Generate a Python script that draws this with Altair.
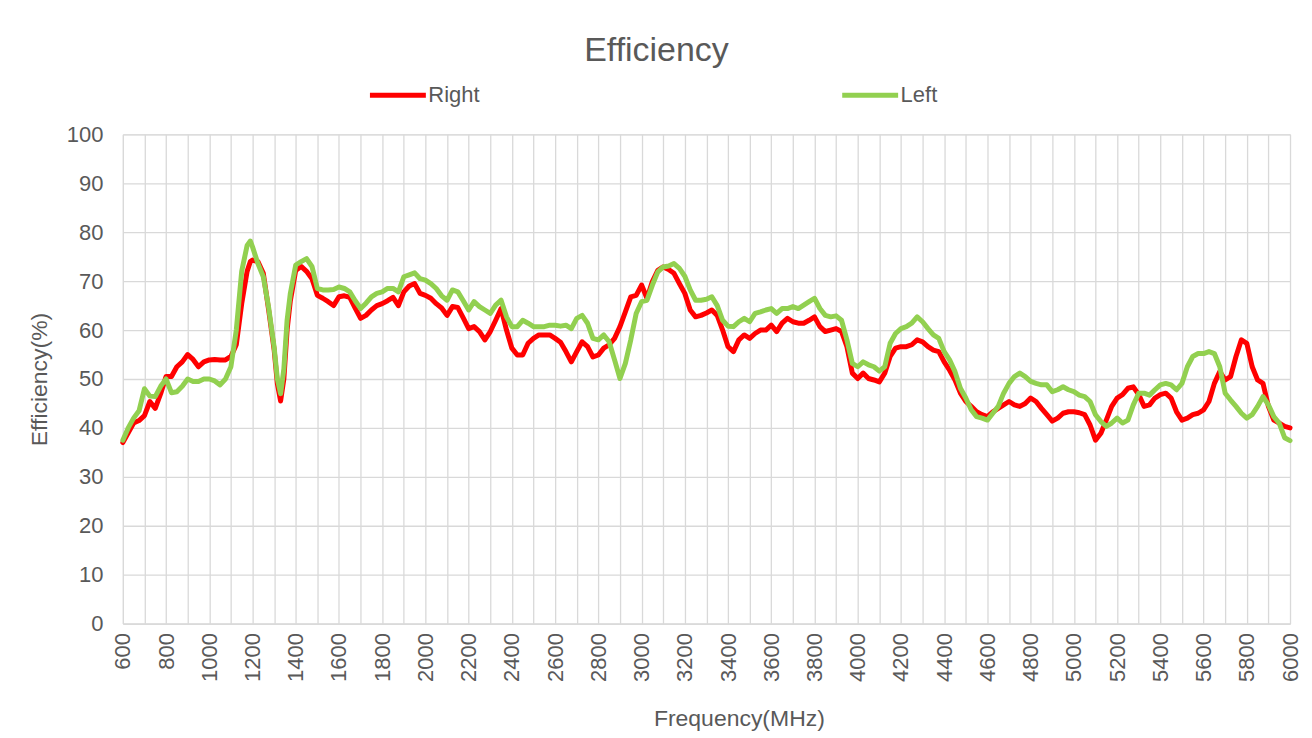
import altair as alt
import pandas as pd

FONT = "Liberation Sans"
GREY = "#595959"
GRID = "#D9D9D9"

freq = [
    600, 625, 650, 675, 700, 725, 750, 775, 800, 825, 850, 875,
    900, 925, 950, 975, 1000, 1025, 1050, 1075, 1100, 1125, 1150, 1175,
    1190, 1200, 1225, 1250, 1275, 1300, 1315, 1330, 1345, 1360, 1375, 1400,
    1425, 1450, 1475, 1500, 1525, 1550, 1575, 1600, 1625, 1650, 1675, 1700,
    1725, 1750, 1775, 1800, 1825, 1850, 1875, 1900, 1925, 1950, 1975, 2000,
    2025, 2050, 2075, 2100, 2125, 2150, 2175, 2200, 2225, 2250, 2275, 2300,
    2325, 2350, 2375, 2400, 2425, 2450, 2475, 2500,
    2525, 2550, 2575, 2600, 2625, 2650, 2675, 2700, 2725, 2750, 2775, 2800,
    2825, 2850, 2875, 2900, 2925, 2950, 2975, 3000,
    3025, 3050, 3075, 3100, 3125, 3150, 3175, 3200, 3225, 3250, 3275, 3300,
    3325, 3350, 3375, 3400, 3425, 3450, 3475, 3500,
    3525, 3550, 3575, 3600, 3625, 3650, 3675, 3700, 3725, 3750, 3775, 3800,
    3825, 3850, 3875, 3900, 3925, 3950, 3975, 4000,
    4025, 4050, 4075, 4100, 4125, 4150, 4175, 4200, 4225, 4250, 4275, 4300,
    4325, 4350, 4375, 4400, 4425, 4450, 4475, 4500,
    4525, 4550, 4575, 4600, 4625, 4650, 4675, 4700, 4725, 4750, 4775, 4800,
    4825, 4850, 4875, 4900, 4925, 4950, 4975, 5000,
    5025, 5050, 5075, 5100, 5125, 5150, 5175, 5200, 5225, 5250, 5275, 5300,
    5325, 5350, 5375, 5400, 5425, 5450, 5475, 5500,
    5525, 5550, 5575, 5600, 5625, 5650, 5675, 5700, 5725, 5750, 5775, 5800,
    5825, 5850, 5875, 5900, 5925, 5950, 5975, 6000,
]

right = [
    37, 39, 41, 41.5, 42.5, 45.4, 44, 47, 50.5, 50.5, 52.5, 53.5,
    55, 54, 52.5, 53.5, 53.9, 54, 53.9, 53.9, 54.6, 57, 65.4, 72,
    74, 74.3, 74, 71.6, 64, 56, 49, 45.5, 50, 60, 66, 72.2,
    73, 72, 70.5, 67.1, 66.5, 65.8, 65, 66.8, 67, 66.7, 64.5, 62.4,
    63, 64.1, 65, 65.4, 66, 66.7, 65, 67.8, 69, 69.5, 67.5, 67.1,
    66.5, 65.4, 64.5, 63, 64.8, 64.6, 62.5, 60.3, 60.7, 59.7, 58, 59.7,
    62, 64.4, 60, 56.3, 54.9, 54.9, 57.3, 58.3,
    59, 59, 59, 58.3, 57.5, 55.6, 53.5, 55.6, 57.6, 56.6, 54.5, 54.9,
    56.3, 57, 58.3, 60.7, 63.7, 66.8, 67.1, 69.2,
    66.5, 69.9, 72.2, 72.9, 72.4, 71.6, 69.5, 67.5, 64.1, 62.7, 63, 63.5,
    64.1, 63, 60, 56.6, 55.6, 58, 59, 58.3,
    59.3, 60, 60, 61, 59.7, 61.4, 62.4, 61.7, 61.4, 61.4, 62, 62.7,
    60.7, 59.7, 60, 60.3, 59.7, 56.6, 51.2, 50.1,
    51.2, 50.1, 49.8, 49.4, 51.2, 54.6, 56.3, 56.6, 56.6, 57, 58, 57.6,
    56.6, 55.9, 55.6, 53.5, 51.8, 49.8, 47.1, 45.4,
    44.4, 43.3, 42.7, 42.3, 43.3, 44, 44.7, 45.4, 44.7, 44.4, 45, 46.1,
    45.4, 44, 42.7, 41.4, 42, 43, 43.3, 43.3,
    43.1, 42.7, 40.6, 37.5, 38.9, 41.6, 44.4, 46.1, 46.8, 48.1, 48.4, 46.8,
    44.4, 44.7, 46.1, 46.8, 47.1, 46.1, 43.3, 41.6,
    42, 42.7, 43, 43.7, 45.4, 49.1, 51.5, 49.8, 50.5, 54.6, 58, 57.3,
    52.5, 49.8, 49.1, 44.4, 41.6, 41, 40.3, 40,
]

left = [
    37.5, 40, 42, 43.5, 48, 46.5, 46.4, 48.5, 50, 47.2, 47.4, 48.5,
    50, 49.5, 49.5, 50, 50, 49.6, 48.8, 50, 52.5, 60, 72, 77.3,
    78.2, 77, 73.6, 70.9, 64.5, 56.5, 50, 47, 52, 62, 67.5, 73.3,
    74, 74.6, 73, 68.5, 68.2, 68.2, 68.3, 68.8, 68.5, 67.8, 66, 64.4,
    65.5, 66.8, 67.5, 67.8, 68.5, 68.5, 67.8, 70.9, 71.3, 71.7, 70.5, 70.2,
    69.5, 68.5, 67, 66.1, 68.2, 67.8, 66, 64.1, 65.8, 64.8, 64.1, 63.4,
    65.1, 66.1, 62.7, 60.7, 60.7, 62, 61.4, 60.7,
    60.7, 60.7, 61, 61, 60.8, 61, 60.3, 62.4, 63, 61.4, 58.3, 58,
    59, 57.6, 53.9, 50.1, 53.2, 58, 63.4, 65.8,
    66.1, 69.2, 71.9, 72.9, 73.1, 73.6, 72.6, 71, 68.2, 66.1, 66.1, 66.3,
    66.8, 65, 62, 60.8, 60.7, 61.7, 62.4, 61.7,
    63.4, 63.7, 64.1, 64.4, 63.4, 64.4, 64.4, 64.8, 64.4, 65.1, 65.8, 66.5,
    64.4, 63, 62.7, 62.9, 62, 58, 53.2, 52.5,
    53.5, 52.9, 52.5, 51.6, 52.5, 57.3, 59.3, 60.3, 60.7, 61.4, 62.7, 61.7,
    60.3, 59, 58.3, 55.6, 53.9, 51.5, 48.1, 46.1,
    43.7, 42.3, 42, 41.6, 43, 44.4, 47.1, 49.1, 50.5, 51.2, 50.5, 49.5,
    49.1, 48.8, 48.8, 47.4, 47.8, 48.4, 47.8, 47.4,
    46.7, 46.4, 45.4, 42.7, 41.3, 40.3, 41, 42, 41, 41.6, 44.7, 47.1,
    47.1, 46.7, 47.8, 48.8, 49.1, 48.8, 47.8, 49.1,
    52.5, 54.6, 55.2, 55.2, 55.6, 55.2, 52.5, 47.1, 45.7, 44.4, 43, 42,
    42.7, 44.4, 46.4, 44.7, 42.3, 41, 38, 37.4,
]

series_names = ["Right", "Left"]
series_colors = ["#FF0000", "#92D050"]
x_ticks = list(range(600, 6001, 100))
y_ticks = list(range(0, 101, 10))

assert len(freq) == len(right) == len(left)
n = len(freq)
df = pd.DataFrame({
    "Frequency": freq + freq,
    "Efficiency": right + left,
    "Series": ["Right"] * n + ["Left"] * n,
})

color = alt.Color(
    "Series:N",
    scale=alt.Scale(domain=series_names, range=series_colors),
    legend=alt.Legend(
        orient="none", legendX=245, legendY=-70, direction="horizontal",
        title=None, symbolType="stroke", symbolSize=3136, symbolStrokeWidth=5,
        labelFont=FONT, labelFontSize=22, labelColor=GREY, labelOffset=0,
        columnPadding=352,
    ),
)

x = alt.X(
    "Frequency:Q",
    scale=alt.Scale(domain=[600, 6000], nice=False, zero=False),
    axis=alt.Axis(
        values=x_ticks, format="d",
        labelExpr="datum.value % 200 === 0 ? datum.label : ''",
        labelAngle=270, labelAlign="right", labelBaseline="middle",
        labelPadding=9, labelFont=FONT, labelFontSize=22, labelColor=GREY,
        labelOverlap=False, labelFlush=False,
        ticks=False, domainColor=GRID, domainWidth=1.3,
        grid=True, gridColor=GRID, gridWidth=1.3,
        title="Frequency(MHz)", titleFont=FONT, titleFontSize=23,
        titleColor=GREY, titleFontWeight="normal",
        titleX=617, titleY=102, titleAlign="center", titleBaseline="alphabetic",
    ),
)
y = alt.Y(
    "Efficiency:Q",
    scale=alt.Scale(domain=[0, 100], nice=False),
    axis=alt.Axis(
        values=y_ticks, labelPadding=20, labelFont=FONT, labelFontSize=22,
        labelColor=GREY, ticks=False, domain=False,
        grid=True, gridColor=GRID, gridWidth=1.3,
        title="Efficiency(%)", titleFont=FONT, titleFontSize=23,
        titleColor=GREY, titleFontWeight="normal",
        titleX=-76, titleY=245, titleAngle=270, titleAlign="center",
        titleBaseline="alphabetic",
    ),
)

base = alt.Chart(df).mark_line(strokeWidth=5, strokeCap="round", strokeJoin="round")
red = base.transform_filter(alt.datum.Series == "Right").encode(x=x, y=y, color=color)
green = base.transform_filter(alt.datum.Series == "Left").encode(x=x, y=y, color=color)

chart = alt.layer(red, green).properties(
    width=1169, height=490,
    title=alt.TitleParams(
        "Efficiency", font=FONT, fontSize=34, color=GREY, fontWeight="normal",
        anchor="middle", offset=-31, baseline="alphabetic", dx=-50,
    ),
    autosize=alt.AutoSizeParams(type="none"),
    padding={"left": 115, "top": 126, "right": 14, "bottom": 110},
).configure_view(stroke=None).configure(background="white")

chart.save("out.html", embed_options={"renderer": "svg", "actions": False})
